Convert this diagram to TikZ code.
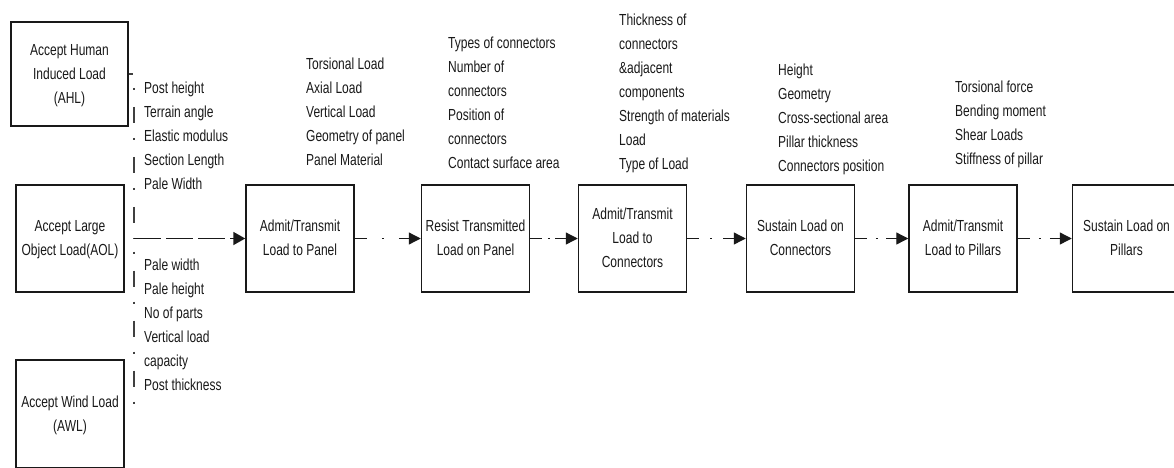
\documentclass[tikz,border=0pt]{standalone}
\usepackage{fontspec}
\setmainfont{Liberation Sans}[FakeStretch=0.75]
\usetikzlibrary{arrows.meta}
\newcommand\LLines[1]{\vtop{\baselineskip=24pt\lineskiplimit=-30pt\lineskip=0pt\halign{\vrule height17pt depth7pt width0pt\relax##\hfil\cr#1\crcr}}}
\newcommand\CLines[1]{\vtop{\baselineskip=24pt\lineskiplimit=-30pt\lineskip=0pt\halign{\vrule height17pt depth7pt width0pt\relax\hfil##\hfil\cr#1\crcr}}}
\tikzset{
  lbl/.style={font=\fontsize{16pt}{24pt}\selectfont, text=black!90},
  box/.style={lbl, draw=black!90, line width=1.5pt, minimum width=108pt, minimum height=107pt, inner sep=0pt},
  txt/.style={lbl, anchor=north west, inner sep=0pt},
  flow/.style={draw=black!90, line width=1.3pt, dash pattern=on 12pt off #1 on 2pt off #1 on 30pt,
    -{Triangle[length=12pt,width=12pt]}},
  bigflow/.style={draw=black!90, line width=1.8pt, dash pattern=on 27pt off 5pt,
    -{Triangle[length=12pt,width=13pt]}},
  vline/.style={draw=black!75, line width=1.1pt, dash pattern=on 16pt off 15pt on 2pt off 17pt}
}
\begin{document}
\begin{tikzpicture}[x=1pt,y=-1pt]
\useasboundingbox (0,0) rectangle (1174,467);
% boxes
\node[box, minimum width=117pt, minimum height=104pt] (ahl) at (69.5,74) {\CLines{Accept Human\cr Induced Load\cr (AHL)}};
\node[box] (aol) at (70,238.5) {\CLines{Accept Large\cr Object Load(AOL)}};
\node[box, minimum height=108pt] (awl) at (70,414) {\CLines{Accept Wind Load\cr (AWL)}};
\node[box] (b1) at (300,238.5) {\CLines{Admit/Transmit\cr Load to Panel}};
\node[box] (b2) at (475.5,238.5) {\CLines{Resist Transmitted\cr Load on Panel}};
\node[box] (b3) at (632.5,238.5) {\CLines{Admit/Transmit\cr Load to\cr Connectors}};
\node[box] (b4) at (800.5,238.5) {\CLines{Sustain Load on\cr Connectors}};
\node[box] (b5) at (963,238.5) {\CLines{Admit/Transmit\cr Load to Pillars}};
\node[box] (b6) at (1126.5,238.5) {\CLines{Sustain Load on\cr Pillars}};
% parameter lists
\node[txt] (t1) at (144,76) {\LLines{Post height\cr Terrain angle\cr Elastic modulus\cr Section Length\cr Pale Width}};
\node[txt] (t2) at (144,253) {\LLines{Pale width\cr Pale height\cr No of parts\cr Vertical load\cr capacity\cr Post thickness}};
\node[txt] (t3) at (306,52) {\LLines{Torsional Load\cr Axial Load\cr Vertical Load\cr Geometry of panel\cr Panel Material}};
\node[txt] (t4) at (448,31) {\LLines{Types of connectors\cr Number of\cr connectors\cr Position of\cr connectors\cr Contact surface area}};
\node[txt] (t5) at (619,8) {\LLines{Thickness of\cr connectors\cr \&adjacent\cr components\cr Strength of materials\cr Load\cr Type of Load}};
\node[txt] (t6) at (778,58) {\LLines{Height\cr Geometry\cr Cross-sectional area\cr Pillar thickness\cr Connectors position}};
\node[txt] (t7) at (955,75) {\LLines{Torsional force\cr Bending moment\cr Shear Loads\cr Stiffness of pillar}};
% connectors
\coordinate (j) at (134,238.5);
\coordinate (vend) at (134,407);
\draw[vline, dash phase=12pt] (ahl.east) -| (j);
\draw[vline, dash phase=18pt] (j) -- (vend);
\draw[bigflow] (j) -- (b1);
\draw[flow=15pt] (b1) -- (b2);
\draw[flow=5.5pt] (b2) -- (b3);
\draw[flow=11pt] (b3) -- (b4);
\draw[flow=8.5pt] (b4) -- (b5);
\draw[flow=9pt] (b5) -- (b6);
\end{tikzpicture}
\end{document}
